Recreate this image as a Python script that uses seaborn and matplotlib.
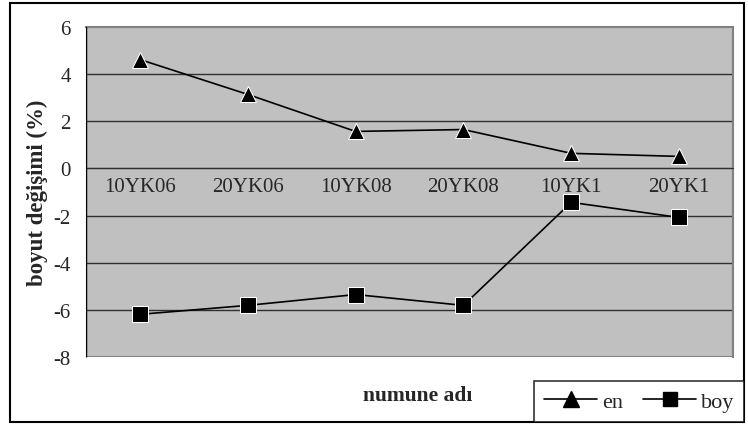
# Libraries
# =====================================================================
import pandas as pd
import seaborn as sns
import matplotlib
matplotlib.use('Agg')
import matplotlib.pyplot as plt
from matplotlib.patches import Rectangle
from matplotlib.lines import Line2D
from matplotlib.ticker import FixedLocator

# Data
# =====================================================================
samples = ['10YK06', '20YK06', '10YK08', '20YK08', '10YK1', '20YK1']
en = [4.62, 3.14, 1.57, 1.65, 0.64, 0.51]
boy = [-6.19, -5.81, -5.35, -5.81, -1.44, -2.08]
yticks = [-8, -6, -4, -2, 0, 2, 4, 6]

df = pd.DataFrame({'numune': samples * 2,
                   'deger': en + boy,
                   'seri': ['en'] * len(en) + ['boy'] * len(boy)})

# Visualization
# =====================================================================
sns.set_style('white')
plt.rcParams['font.family'] = ['Liberation Serif', 'DejaVu Serif']
plt.rcParams['axes.unicode_minus'] = False

fig = plt.figure(figsize=(7.48, 4.27), dpi=100)
ax = fig.add_axes([86 / 748, 1 - 358 / 427, (733 - 86) / 748, (358 - 28) / 427])
ax.set_facecolor('#c0c0c0')

sns.lineplot(data=df, x='numune', y='deger', hue='seri', style='seri',
             markers={'en': '^', 'boy': 's'}, dashes=False,
             palette={'en': 'black', 'boy': 'black'}, markersize=11,
             linewidth=1.2, sort=False, legend=False, ax=ax, zorder=3)

ax.set_xlim(-0.5, len(samples) - 0.5)
ax.set_ylim(-8, 6)
ax.set_yticks(yticks)
ax.set_yticklabels([str(t) for t in yticks])
ax.tick_params(axis='y', labelsize=15, length=7, width=1, color='black',
               direction='out', pad=4)

# Horizontal gridlines
for y in yticks[1:-1]:
    ax.axhline(y, color='#303030', linewidth=1, zorder=1)

# Category axis crossing at zero
ax.spines['bottom'].set_position(('data', 0))
ax.spines['bottom'].set_color('#303030')
ax.set_xticks(range(len(samples)))
ax.set_xticklabels(samples)
ax.tick_params(axis='x', which='major', length=0, labelsize=15, pad=6)
ax.xaxis.set_minor_locator(FixedLocator([i + 0.5 for i in range(len(samples) - 1)]))
ax.tick_params(axis='x', which='minor', length=5, width=1, color='#303030', direction='out')

for side in ['top', 'right']:
    ax.spines[side].set_color('#808080')
    ax.spines[side].set_linewidth(1.5)
ax.spines['left'].set_color('#808080')

# Bottom border of the plot area
ax.add_patch(Rectangle((0, 0), 1, 1, transform=ax.transAxes, fill=False,
                       edgecolor='#808080', linewidth=1.5, zorder=0.5))
ax.axvline(-0.5, color='black', linewidth=1, zorder=4)

ax.set_xlabel('')
ax.set_ylabel('boyut değişimi (%)', fontsize=16.5, fontweight='bold', labelpad=4)

fig.text(418 / 748, 1 - 396 / 427, 'numune adı', fontsize=15.5,
         fontweight='bold', ha='center', va='center')

# Outer frame
fig.patches.append(Rectangle((10 / 748, 1 - 423 / 427), (744 - 10) / 748, (423 - 4) / 427,
                             transform=fig.transFigure, fill=False,
                             edgecolor='black', linewidth=1.5))

# Legend
handles = [Line2D([0], [0], color='black', marker='^', markersize=11, lw=1.2, label='en'),
           Line2D([0], [0], color='black', marker='s', markersize=10, lw=1.2, label='boy')]
leg = fig.legend(handles=handles, loc='lower right', ncol=2, fontsize=16,
                 bbox_to_anchor=(744 / 748, 1 - 423 / 427), frameon=True,
                 fancybox=False, edgecolor='black', handlelength=2.4,
                 handletextpad=0.2, columnspacing=0.9, borderpad=0.45,
                 borderaxespad=0)
leg.get_frame().set_linewidth(1.2)

fig.savefig('out.png', dpi=100)
